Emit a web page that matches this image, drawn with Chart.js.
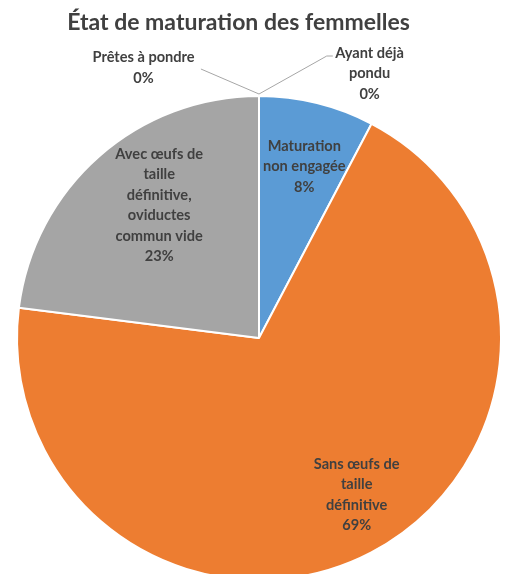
<!DOCTYPE html>
<html>
<head>
<meta charset="utf-8">
<script src="https://cdn.jsdelivr.net/npm/chart.js@4.4.0/dist/chart.umd.min.js"></script>
<style>
html, body { margin: 0; padding: 0; background: #fff; overflow: hidden; }
#wrap { position: relative; width: 507px; height: 590px; }
</style>
</head>
<body>
<div id="wrap"><canvas id="chart"></canvas></div>
<script>
const chartTitle = "État de maturation des femmelles";
const categories = [
    ["Maturation", "non engagée"],
    ["Sans œufs de", "taille", "définitive"],
    ["Avec œufs de", "taille", "définitive,", "oviductes", "commun vide"],
    ["Prêtes à pondre"],
    ["Ayant déjà", "pondu"]
];
const values = [7.7, 69.3, 23.0, 0, 0];
const colors = ["#5B9BD5", "#ED7D31", "#A5A5A5", "#FFC000", "#4472C4"];

const textColor = "#404040";
const fontFamily = "Lato, 'Open Sans', sans-serif";
// small horizontal nudge of the inside labels, like Excel's placement
const labelNudge = [3, 16, 17, 0, 0];

// draws the title and the data labels (no datalabels plugin offline)
const pieLabels = {
    id: "pieLabels",
    afterDatasetsDraw(chart) {
        const ctx = chart.ctx;
        const meta = chart.getDatasetMeta(0);
        const total = values.reduce((a, b) => a + b, 0);
        ctx.save();
        ctx.fillStyle = textColor;
        ctx.textAlign = "center";
        ctx.textBaseline = "middle";

        ctx.font = "bold 23px " + fontFamily;
        ctx.fillText(chartTitle, chart.width / 2 - 15, 23);

        ctx.font = "bold 14.6px " + fontFamily;
        const lh = 20.5;
        let zeroCount = 0;
        meta.data.forEach((arc, i) => {
            const p = arc.getProps(["x", "y", "startAngle", "endAngle", "outerRadius"], true);
            const r = p.outerRadius;
            const lines = categories[i].concat([Math.round(values[i] / total * 100) + "%"]);
            const mid = (p.startAngle + p.endAngle) / 2;
            if (values[i] > 0) {
                const cx = p.x + Math.cos(mid) * r * 0.73 + labelNudge[i];
                const cy = p.y + Math.sin(mid) * r * 0.73;
                lines.forEach((t, k) => ctx.fillText(t, cx, cy + (k - (lines.length - 1) / 2) * lh));
                return;
            }
            // empty slices: label outside with a leader line
            const ex = p.x + Math.cos(mid) * r;
            const ey = p.y + Math.sin(mid) * r - 2;
            ctx.strokeStyle = "#A6A6A6";
            ctx.lineWidth = 1;
            ctx.beginPath();
            if (zeroCount === 0) {
                const cx = ex - r * 0.477;
                const cy = ey - 26;
                ctx.moveTo(ex, ey);
                ctx.lineTo(ex - r * 0.24, cy + 1);
                ctx.stroke();
                lines.forEach((t, k) => ctx.fillText(t, cx, cy + (k - (lines.length - 1) / 2) * lh));
            } else {
                const cx = ex + r * 0.457;
                const ly = ey - 38;
                ctx.moveTo(ex, ey);
                ctx.lineTo(ex + r * 0.28, ly);
                ctx.lineTo(ex + r * 0.305, ly);
                ctx.stroke();
                lines.forEach((t, k) => ctx.fillText(t, cx, ly - 3 + k * lh));
            }
            zeroCount++;
        });
        ctx.restore();
    }
};

new Chart(document.getElementById("chart"), {
    type: "pie",
    data: {
        labels: categories,
        datasets: [{
            data: values,
            backgroundColor: colors,
            borderColor: "#ffffff",
            borderWidth: 2,
            hoverOffset: 0
        }]
    },
    options: {
        responsive: true,
        maintainAspectRatio: false,
        animation: false,
        layout: { padding: { left: 16, right: 5, top: 95, bottom: 9 } },
        plugins: {
            legend: { display: false },
            title: { display: false },
            tooltip: { enabled: false }
        }
    },
    plugins: [pieLabels]
});
</script>
</body>
</html>
